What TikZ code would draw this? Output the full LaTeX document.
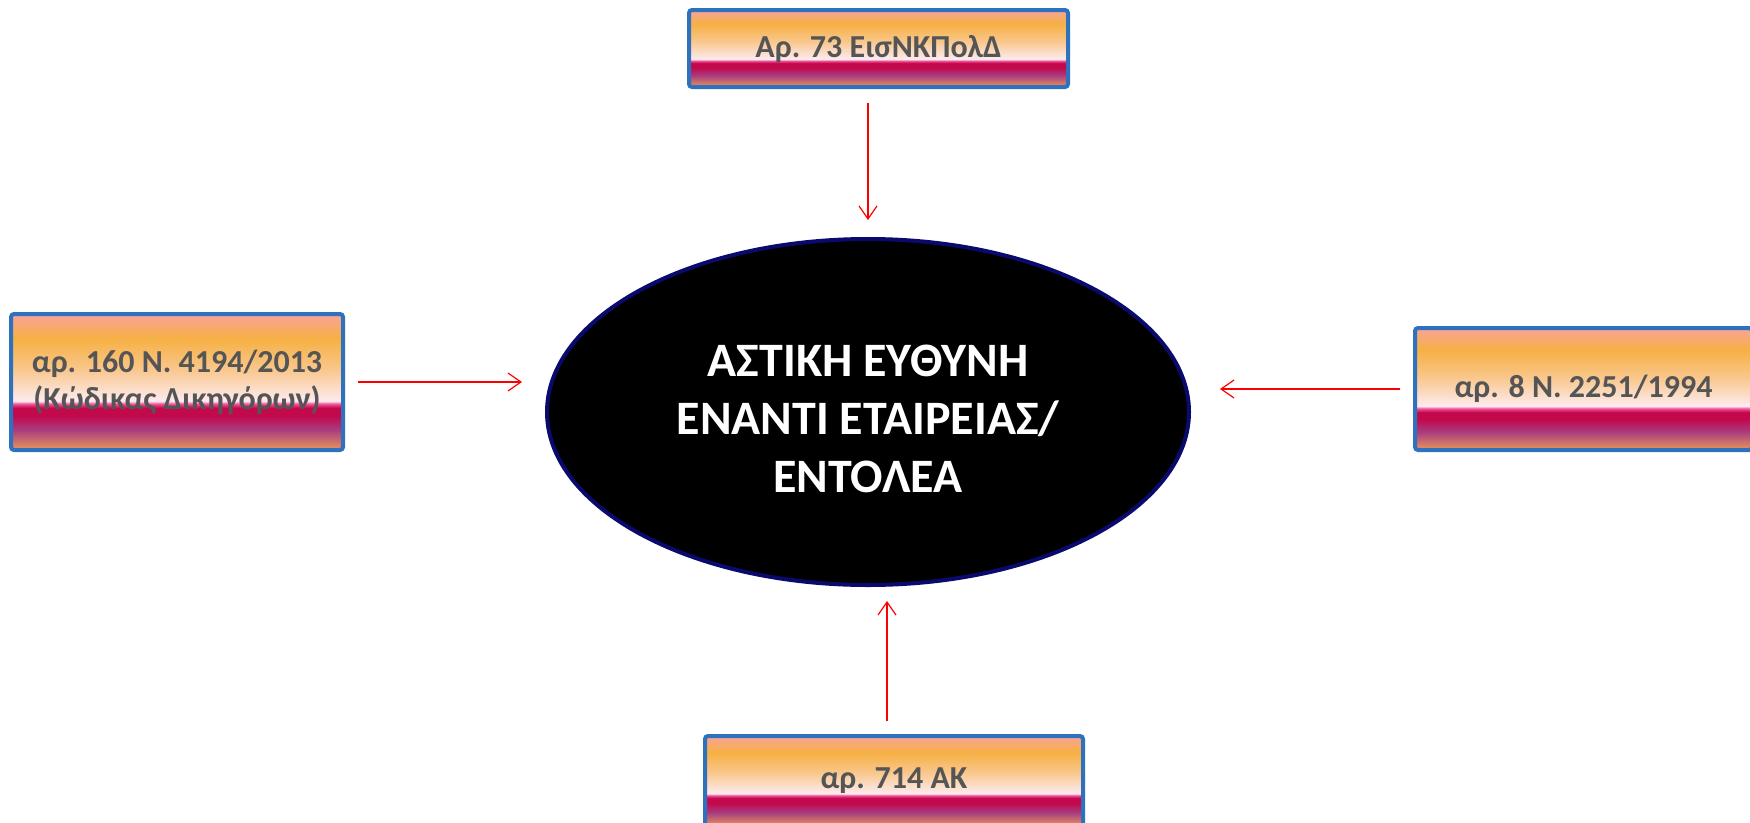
\documentclass[tikz,border=0pt]{standalone}
\usepackage{fontspec}
\setmainfont{Carlito}
\usetikzlibrary{shapes.geometric,arrows.meta}
\definecolor{boxblue}{HTML}{2E72BD}
\definecolor{txtgray}{HTML}{555555}
\definecolor{navyedge}{HTML}{0A0A6E}
\definecolor{arrred}{HTML}{FF0000}
\definecolor{sSalmon}{HTML}{F8A39A}
\definecolor{sOrange}{HTML}{F6B043}
\definecolor{sLightOr}{HTML}{F9C68A}
\definecolor{sWhite}{HTML}{FDEBEF}
\definecolor{sPink}{HTML}{F0559A}
\definecolor{sCrimson}{HTML}{C2094C}
\definecolor{sPurple}{HTML}{A83C80}
\definecolor{sBotOr}{HTML}{E9975A}
\pgfdeclareverticalshading{boxshade}{100bp}{%
  color(0bp)=(sBotOr); color(25bp)=(sBotOr); color(32.5bp)=(sPurple);
  color(37.5bp)=(sCrimson); color(40.5bp)=(sCrimson); color(42bp)=(sPink);
  color(43bp)=(sWhite); color(55bp)=(sLightOr); color(66bp)=(sOrange);
  color(75bp)=(sSalmon); color(100bp)=(sSalmon)}
\tikzset{
  lawbox/.style={draw=boxblue, line width=4pt, rounded corners=3pt,
    shade, shading=boxshade, inner sep=0pt, align=center,
    text=txtgray, font=\fontsize{32}{37}\selectfont\bfseries},
  centre/.style={ellipse, draw=navyedge, line width=4pt, fill=black,
    inner sep=0pt, align=center, text=white,
    font=\fontsize{48}{58}\selectfont\bfseries},
  arr/.style={draw=arrred, line width=1.2pt,
    -{Straight Barb[length=13pt,width=18pt]}}
}
\begin{document}
\begin{tikzpicture}[x=1pt,y=-1pt]
\useasboundingbox[fill=white] (0,0) rectangle (1750,822);
\node[centre, minimum width=642pt, minimum height=346pt] (ell) at (868,412)
  {\rule{0pt}{46pt}ΑΣΤΙΚΗ ΕΥΘΥΝΗ\\ΕΝΑΝΤΙ ΕΤΑΙΡΕΙΑΣ/\\ΕΝΤΟΛΕΑ};
\node[lawbox, minimum width=379pt, minimum height=77pt] (top) at (878.5,48.5)
  {Αρ. 73 ΕισΝΚΠολΔ};
\node[lawbox, minimum width=332pt, minimum height=136pt] (left) at (177,382)
  {αρ. 160 Ν. 4194/2013\\(Κώδικας Δικηγόρων)};
\node[lawbox, minimum width=337pt, minimum height=122pt] (right) at (1583.5,389)
  {αρ. 8 Ν. 2251/1994};
\node[lawbox, minimum width=378pt, minimum height=90pt] (bot) at (894,781)
  {αρ. 714 ΑΚ};
\draw[arr, shorten <=14pt, shorten >=17pt] (top.south -| ell.north) -- (ell.north);
\draw[arr, shorten <=13pt, shorten >=23pt] (left.east) -- (left.east -| ell.west);
\draw[arr, shorten <=13pt, shorten >=29pt] (right.west) -- (right.west -| ell.east);
\draw[arr, shorten <=13pt, shorten >=14pt] ([xshift=-7pt]bot.north) -- ([xshift=-7pt]bot.north |- ell.south);
\end{tikzpicture}
\end{document}
